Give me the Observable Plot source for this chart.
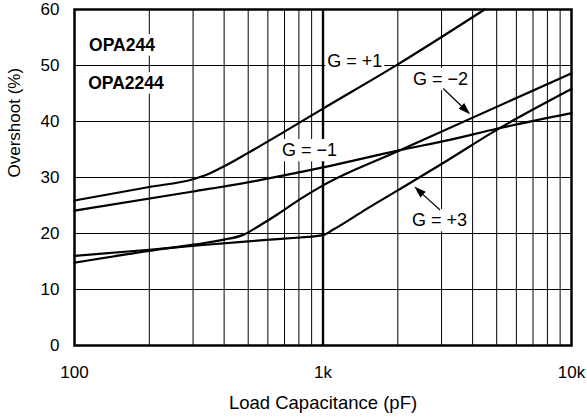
<!DOCTYPE html>
<html><head><meta charset="utf-8">
<script src="https://cdn.jsdelivr.net/npm/d3@7"></script>
<script src="https://cdn.jsdelivr.net/npm/@observablehq/plot@0.6"></script>
<style>
body{margin:0;background:#fff;}
#chart{width:587px;height:419px;}
svg{font-family:"Liberation Sans",Arial,Helvetica,sans-serif;}
</style></head><body><div id="chart"></div>
<script>
// Axis ticks
const xTicks = [100, 1000, 10000];
const xTickLabels = ["100", "1k", "10k"];
const yTicks = [0, 10, 20, 30, 40, 50, 60];
const xMinorGrid = [200, 300, 400, 500, 600, 700, 800, 900, 2000, 3000, 4000, 5000, 6000, 7000, 8000, 9000];
const xMajorGrid = [1000];
const yGrid = [10, 20, 30, 40, 50];

// Series: load capacitance (pF) and overshoot (%)
const gP1C = [100, 200, 300, 340, 400, 500, 700, 1000, 2000, 4470];
const gP1V = [25.9, 28.3, 29.7, 30.5, 32.0, 34.4, 38.2, 42.3, 50.2, 60];
const gM1C = [100, 300, 550, 1000, 2000, 3300, 5000, 10000];
const gM1V = [24.1, 27.5, 29.5, 31.8, 34.8, 36.8, 38.7, 41.5];
const gM2C = [100, 200, 300, 400, 480, 550, 650, 800, 1000, 2000, 10000];
const gM2V = [14.8, 16.9, 18.0, 18.9, 19.8, 21.3, 23.3, 26.0, 28.6, 34.7, 48.6];
const gP3C = [100, 200, 320, 500, 700, 1000, 1100, 1500, 2000, 3000, 5000, 10000];
const gP3V = [16.0, 17.1, 17.9, 18.6, 19.1, 19.7, 20.7, 24.4, 27.7, 32.4, 38.5, 45.8];

// Annotations
const labelText = ["OPA244", "OPA2244", "G = +1", "G = \u22122", "G = \u22121", "G = +3"];
const labelC = [115, 114, 1045, 2312, 687, 2291];
const labelV = [53.6, 46.8, 50.7, 47.5, 34.8, 22.3];
const labelBold = [true, true, false, false, false, false];
const arrowFromC = [3062, 2972];
const arrowFromV = [45.8, 24.1];
const arrowToC = [3926, 2339];
const arrowToV = [41.2, 28.3];

const FONT = "'Liberation Sans', Arial, Helvetica, sans-serif";
const series = [
  {C: gP1C, V: gP1V}, {C: gM1C, V: gM1V}, {C: gM2C, V: gM2V}, {C: gP3C, V: gP3V}
];
const curveData = series.flatMap((s, k) => s.C.map((c, i) => ({c, v: s.V[i], k})));
const labels = labelText.map((t, i) => ({t, c: labelC[i], v: labelV[i], bold: labelBold[i]}));
const arrows = arrowFromC.map((c, i) => ({c1: c, v1: arrowFromV[i], c2: arrowToC[i], v2: arrowToV[i]}));

const ctx = document.createElement("canvas").getContext("2d");
function boxedLabels(data) {
  return (index, scales) => {
    const g = d3.create("svg:g").attr("text-anchor", "start");
    for (const d of data) {
      const fs = d.bold ? 17.5 : 18;
      const fw = d.bold ? "bold" : "normal";
      ctx.font = `${fw} ${fs}px ${FONT}`;
      const w = ctx.measureText(d.t).width;
      const x = scales.x(d.c), y = scales.y(d.v);
      g.append("rect").attr("x", x - 2).attr("y", y - fs * 0.62).attr("width", w + 4).attr("height", fs * 1.24).attr("fill", "#fff");
      g.append("text").attr("x", x).attr("y", y).attr("dy", "0.35em").attr("font-size", fs)
        .attr("text-anchor", "start").attr("font-weight", fw).attr("fill", "#000").attr("font-family", FONT).text(d.t);
    }
    return g.node();
  };
}

function arrowMark(data) {
  return (index, scales) => {
    const g = d3.create("svg:g");
    for (const d of data) {
      const x1 = scales.x(d.c1), y1 = scales.y(d.v1), x2 = scales.x(d.c2), y2 = scales.y(d.v2);
      const a = Math.atan2(y2 - y1, x2 - x1);
      const L = 12, W = 4;
      const bx = x2 - L * Math.cos(a), by = y2 - L * Math.sin(a);
      g.append("line").attr("x1", x1).attr("y1", y1).attr("x2", bx).attr("y2", by)
        .attr("stroke", "#000").attr("stroke-width", 1.2);
      g.append("path")
        .attr("d", `M${x2},${y2}L${bx + W * Math.sin(a)},${by - W * Math.cos(a)}L${bx - W * Math.sin(a)},${by + W * Math.cos(a)}Z`)
        .attr("fill", "#000");
    }
    return g.node();
  };
}

const plot = Plot.plot({
  width: 587,
  height: 419,
  marginLeft: 74,
  marginRight: 16,
  marginTop: 9,
  marginBottom: 74,
  x: {type: "log", domain: [100, 10000], axis: null},
  y: {domain: [0, 60], axis: null},
  style: {fontFamily: FONT, background: "#fff"},
  marks: [
    Plot.ruleX(xMinorGrid, {stroke: "#000", strokeWidth: 1}),
    Plot.ruleX(xMajorGrid, {stroke: "#000", strokeWidth: 2.4}),
    Plot.ruleY(yGrid, {stroke: "#000", strokeWidth: 1}),
    boxedLabels(labels),
    Plot.line(curveData, {x: "c", y: "v", z: "k", stroke: "#000", strokeWidth: 2.2, curve: "monotone-x"}),
    arrowMark(arrows),
    Plot.frame({stroke: "#000", strokeWidth: 2.5}),
    Plot.text(xTicks, {x: d => d, y: 0, text: (d, i) => xTickLabels[i], dy: 27, fontSize: 17, fill: "#000"}),
    Plot.text(yTicks, {x: 100, y: d => d, text: d => String(d), dx: -15, textAnchor: "end", fontSize: 17, fill: "#000"}),
    Plot.text(["Load Capacitance (pF)"], {frameAnchor: "bottom", dy: 63, fontSize: 18.5, fill: "#000"}),
    Plot.text(["Overshoot (%)"], {frameAnchor: "left", dx: -60, rotate: -90, fontSize: 17, fill: "#000"})
  ]
});
document.getElementById("chart").appendChild(plot);
</script>
</body></html>
